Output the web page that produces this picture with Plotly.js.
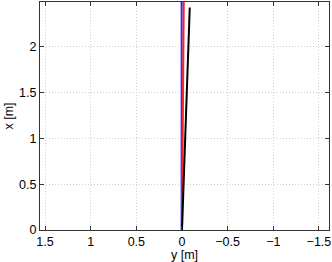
<!DOCTYPE html>
<html>
<head>
<meta charset="utf-8">
<script src="https://cdn.plot.ly/plotly-3.0.1.min.js"></script>
<style>html,body{margin:0;padding:0;background:#fff;}#chart{width:332px;height:262px;}</style>
</head>
<body>
<div id="chart"></div>
<script>
// Data (lateral position y [m], forward position x [m])
const blueY = [0.004, 0.004, 0.004];
const blueX = [0.0, 1.2, 2.6];
const redY = [0.0, -0.01, -0.02];
const redX = [0.0, 1.3, 2.6];
const blackY = [0.0, -0.04, -0.085];
const blackX = [0.0, 1.2, 2.43];
const xTicks = [1.5, 1, 0.5, 0, -0.5, -1, -1.5];
const yTicks = [0, 0.5, 1, 1.5, 2];

const traces = [
  {x: blueY, y: blueX, mode: 'lines', line: {color: '#2b2bff', width: 2}},
  {x: redY, y: redX, mode: 'lines', line: {color: '#ff2020', width: 2}},
  {x: blackY, y: blackX, mode: 'lines', line: {color: '#000000', width: 2}}
];

const font = {family: 'Liberation Sans, Arial, sans-serif', size: 12.5, color: '#000'};
const layout = {
  width: 332, height: 262,
  margin: {l: 40, r: 3, t: 2, b: 32},
  paper_bgcolor: '#fff', plot_bgcolor: '#fff',
  showlegend: false,
  font: font,
  xaxis: {
    range: [1.555, -1.61],
    tickvals: xTicks,
    ticks: 'inside', ticklen: 4, tickcolor: '#333',
    showline: true, linecolor: '#333', linewidth: 1, mirror: 'ticks',
    showgrid: true, gridcolor: '#d0d0d0', griddash: '1px,2px', gridwidth: 1,
    zeroline: false,
    title: {text: 'y [m]', font: font, standoff: 0},
    tickfont: font
  },
  yaxis: {
    range: [0, 2.49],
    tickvals: yTicks,
    ticks: 'inside', ticklen: 4, tickcolor: '#333',
    showline: true, linecolor: '#333', linewidth: 1, mirror: 'ticks',
    showgrid: true, gridcolor: '#d0d0d0', griddash: '1px,2px', gridwidth: 1,
    zeroline: false,
    title: {text: 'x [m]', font: font, standoff: 2},
    tickfont: font
  }
};
Plotly.newPlot('chart', traces, layout, {staticPlot: true, displayModeBar: false});
</script>
</body>
</html>
